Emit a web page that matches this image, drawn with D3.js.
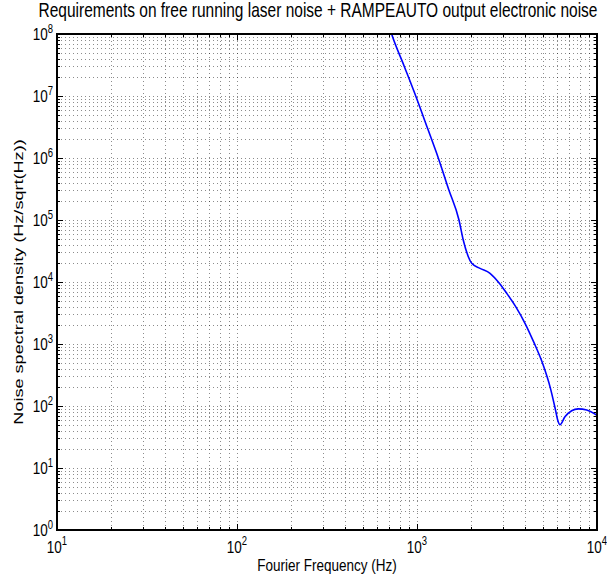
<!DOCTYPE html>
<html><head><meta charset="utf-8">
<script src="https://cdn.jsdelivr.net/npm/d3@7"></script>
<style>body{margin:0;background:#fff}svg{display:block}</style>
</head><body><svg id="c" width="607" height="576"></svg>
<script>
// ---- data ----
const freq  = [700, 723, 850, 984, 1150, 1313, 1500, 1711, 1807, 1928, 2013, 2239, 2545, 2866, 3150, 3548, 3981, 4467, 5012, 5495, 5888, 6053, 6228, 6637, 7230, 7870, 8770, 10000];
const noise = [1.35e8, 1e8, 3.0e7, 1e7, 2.9e6, 1e6, 3.1e5, 1e5, 47500, 25600, 20000, 16600, 13800, 9550, 6570, 3930, 2160, 1050, 467, 200, 85, 59, 50, 67, 84, 90, 86, 71];
const xTickValues = [10, 100, 1000, 10000];
const xTickExp = ["1", "2", "3", "4"];
const yTickValues = [1, 10, 100, 1e3, 1e4, 1e5, 1e6, 1e7, 1e8];
const yTickExp = ["0", "1", "2", "3", "4", "5", "6", "7", "8"];
const titleText = "Requirements on free running laser noise + RAMPEAUTO output electronic noise";
const xLabelText = "Fourier Frequency (Hz)";
const yLabelText = "Noise spectral density (Hz/sqrt(Hz))";

// ---- layout ----
const L = 57, R = 597, T = 34, B = 530;
const S = 1.27; // vertical stretch of glyphs seen in the reference
const FONT = "'Liberation Sans', Arial, Helvetica, sans-serif";
const svg = d3.select("#c");
const x = d3.scaleLog().domain([10, 1e4]).range([L, R]);
const y = d3.scaleLog().domain([1, 1e8]).range([B, T]);

function minors(decades) {
  const out = [];
  for (let i = 0; i < decades.length - 1; i++)
    for (let k = 2; k <= 9; k++) out.push(decades[i] * k);
  return out;
}
const xMinor = minors(xTickValues);
const yMinor = minors(yTickValues);
const xAll = xTickValues.concat(xMinor);
const yAll = yTickValues.concat(yMinor);

// grid (dotted)
const gx = svg.append("g").attr("transform", `translate(0,${B})`)
  .call(d3.axisBottom(x).tickValues(xAll).tickSize(-(B - T)).tickFormat(""));
const gy = svg.append("g").attr("transform", `translate(${L},0)`)
  .call(d3.axisLeft(y).tickValues(yAll).tickSize(-(R - L)).tickFormat(""));
[gx, gy].forEach(g => {
  g.select(".domain").remove();
  g.selectAll(".tick line").attr("stroke", "#000").attr("stroke-width", 1)
    .attr("stroke-dasharray", "1,3").attr("opacity", 0.45).attr("shape-rendering", "crispEdges");
});

// curve
svg.append("clipPath").attr("id", "plotclip").append("rect")
  .attr("x", L).attr("y", T).attr("width", R - L).attr("height", B - T);
const line = d3.line().x((d, i) => x(freq[i])).y((d, i) => y(noise[i])).curve(d3.curveMonotoneX);
svg.append("path").datum(noise).attr("d", line)
  .attr("fill", "none").attr("stroke", "#0000ff").attr("stroke-width", 1.6)
  .attr("clip-path", "url(#plotclip)");

// ticks inside on all four sides
function tickAxis(axisFn, scale, values, size, transform) {
  const g = svg.append("g").attr("transform", transform)
    .call(axisFn(scale).tickValues(values).tickSize(size).tickFormat(""));
  g.select(".domain").remove();
  g.selectAll(".tick line").attr("stroke", "#000").attr("shape-rendering", "crispEdges");
  return g;
}
tickAxis(d3.axisBottom, x, xTickValues, -6, `translate(0,${B})`);
tickAxis(d3.axisBottom, x, xMinor, -3, `translate(0,${B})`);
tickAxis(d3.axisTop, x, xTickValues, -6, `translate(0,${T})`);
tickAxis(d3.axisTop, x, xMinor, -3, `translate(0,${T})`);
tickAxis(d3.axisLeft, y, yTickValues, -6, `translate(${L},0)`);
tickAxis(d3.axisLeft, y, yMinor, -3, `translate(${L},0)`);
tickAxis(d3.axisRight, y, yTickValues, -6, `translate(${R},0)`);
tickAxis(d3.axisRight, y, yMinor, -3, `translate(${R},0)`);

// box
svg.append("rect").attr("x", L).attr("y", T).attr("width", R - L).attr("height", B - T)
  .attr("fill", "none").attr("stroke", "#000").attr("stroke-width", 1.3).attr("shape-rendering", "crispEdges");

// tick labels (stretched vertically like the reference)
const lab = svg.append("g").attr("font-family", FONT).attr("fill", "#000");
xTickValues.forEach((v, i) => {
  const t = lab.append("text").attr("transform", `translate(${x(v)},553) scale(1,${S})`)
    .attr("font-size", 13.5).attr("text-anchor", "middle");
  t.append("tspan").text("10");
  t.append("tspan").attr("font-size", 9.5).attr("dy", -6).text(xTickExp[i]);
});
yTickValues.forEach((v, i) => {
  const t = lab.append("text").attr("transform", `translate(53,${y(v) + 6}) scale(1,${S})`)
    .attr("font-size", 13.5).attr("text-anchor", "end");
  t.append("tspan").text("10");
  t.append("tspan").attr("font-size", 9.5).attr("dy", -5.5).text(yTickExp[i]);
});

// title and axis labels
lab.append("text").attr("transform", `translate(318,16.5) scale(1,${S})`).attr("text-anchor", "middle")
  .attr("font-size", 15.5).text(titleText);
lab.append("text").attr("transform", `translate(${(L + R) / 2},571) scale(1,${S})`).attr("text-anchor", "middle")
  .attr("font-size", 13.5).text(xLabelText);
lab.append("text").attr("transform", `translate(23,${(T + B) / 2}) rotate(-90) scale(1.34,1)`).attr("text-anchor", "middle")
  .attr("font-size", 13.5).text(yLabelText);
</script></body></html>
